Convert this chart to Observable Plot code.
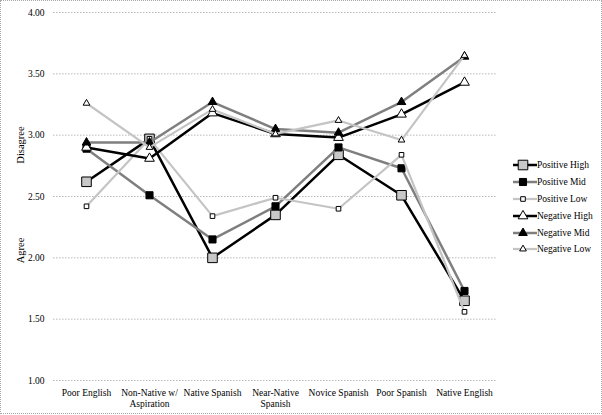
<!DOCTYPE html>
<html>
<head>
<meta charset="utf-8">
<script src="https://cdn.jsdelivr.net/npm/d3@7"></script>
<script src="https://cdn.jsdelivr.net/npm/@observablehq/plot@0.6"></script>
<style>
  html, body { margin: 0; padding: 0; background: #fff; }
  #wrap { position: relative; width: 602px; height: 415px; overflow: hidden; font-family: "Liberation Serif", "Times New Roman", "DejaVu Serif", serif; }
  #wrap svg.plot { position: absolute; left: 0; top: 0; font-family: "Liberation Serif", "Times New Roman", "DejaVu Serif", serif; }
  #wrap svg.plot text { font-family: "Liberation Serif", "Times New Roman", "DejaVu Serif", serif; }
  #border { position: absolute; left: 0; top: 0; width: 600px; height: 412px; border: 1px dotted #a8a8a8; pointer-events: none; }
  #legend { position: absolute; left: 510px; top: 157px; }
  .row { height: 16.8px; display: flex; align-items: center; font-size: 9.5px; color: #000; white-space: nowrap; }
  .row svg { display: block; flex: none; }
</style>
</head>
<body>
<div id="wrap"><div id="border"></div><div id="legend"></div></div>
<script>
// ---- data ----
const categories = ["Poor English", "Non-Native w/ Aspiration", "Native Spanish", "Near-Native Spanish", "Novice Spanish", "Poor Spanish", "Native English"];
const tickLabels = ["Poor English", "Non-Native w/\nAspiration", "Native Spanish", "Near-Native\nSpanish", "Novice Spanish", "Poor Spanish", "Native English"];
const yTicks = [1.00, 1.50, 2.00, 2.50, 3.00, 3.50, 4.00];
const seriesNames = ["Positive High", "Positive Mid", "Positive Low", "Negative High", "Negative Mid", "Negative Low"];
const positiveHigh = [2.62, 2.97, 2.00, 2.35, 2.84, 2.51, 1.65];
const positiveMid  = [2.89, 2.51, 2.15, 2.42, 2.90, 2.73, 1.73];
const positiveLow  = [2.42, 2.97, 2.34, 2.49, 2.40, 2.84, 1.56];
const negativeHigh = [2.90, 2.81, 3.18, 3.01, 2.98, 3.17, 3.43];
const negativeMid  = [2.94, 2.94, 3.27, 3.05, 3.02, 3.27, 3.64];
const negativeLow  = [3.26, 2.90, 3.21, 3.01, 3.12, 2.96, 3.65];
const seriesValues = [positiveHigh, positiveMid, positiveLow, negativeHigh, negativeMid, negativeLow];
const axisTitles = ["Disagree", "Agree"];

// ---- styles ----
const styles = {
  "Positive High": {line: "#000000", width: 2.5, symbol: "square",   r: 5.4, fill: "#c8c8c8", stroke: "#000", sw: 1},
  "Positive Mid":  {line: "#7f7f7f", width: 2.5, symbol: "square",   r: 4.0, fill: "#000000", stroke: "#000", sw: 1},
  "Positive Low":  {line: "#c4c4c4", width: 2.2, symbol: "square",   r: 2.6, fill: "#ffffff", stroke: "#000", sw: 1},
  "Negative High": {line: "#000000", width: 2.5, symbol: "triangle", r: 3.6, fill: "#ffffff", stroke: "#000", sw: 1},
  "Negative Mid":  {line: "#7f7f7f", width: 2.5, symbol: "triangle", r: 3.2, fill: "#000000", stroke: "#000", sw: 1},
  "Negative Low":  {line: "#c4c4c4", width: 2.2, symbol: "triangle", r: 2.5, fill: "#ffffff", stroke: "#000", sw: 1}
};

const rows = seriesNames.flatMap((name, s) =>
  categories.map((category, i) => ({series: name, category, value: seriesValues[s][i]})));

const seriesMarks = seriesNames.flatMap(name => {
  const st = styles[name];
  const data = rows.filter(d => d.series === name);
  return [
    Plot.line(data, {x: "category", y: "value", stroke: st.line, strokeWidth: st.width, strokeLinejoin: "round"}),
    Plot.dot(data, {x: "category", y: "value", symbol: () => st.symbol, r: st.r, fill: st.fill, stroke: st.stroke, strokeWidth: st.sw})
  ];
});

const serif = "Liberation Serif, Times New Roman, DejaVu Serif, serif";
const chart = Plot.plot({
  width: 602,
  height: 415,
  marginLeft: 53,
  marginRight: 105,
  marginTop: 12,
  marginBottom: 35,
  style: {fontFamily: serif, background: "transparent", color: "#000"},
  x: {type: "point", domain: categories, padding: 0.5},
  y: {domain: [1, 4]},
  symbol: {type: "identity"},
  marks: [
    Plot.ruleY(yTicks, {stroke: "#b8b8b8", strokeWidth: 1, strokeDasharray: "1.5,1.5"}),
    Plot.axisY({ticks: yTicks, tickFormat: d => d.toFixed(2), tickSize: 0, tickPadding: 9, fontSize: 9.5, fontFamily: serif, label: null}),
    Plot.axisX({tickSize: 0, tickPadding: 8, fontSize: 9.5, fontFamily: serif, lineHeight: 1.12, label: null,
      tickFormat: d => tickLabels[categories.indexOf(d)]}),
    Plot.text(axisTitles, {y: [2.92, 2.06], text: d => d, frameAnchor: "left", textAnchor: "middle", dx: -33, rotate: -90, fontSize: 10.5, fontFamily: serif}),
    ...seriesMarks
  ]
});
chart.classList.add("plot");
document.getElementById("wrap").prepend(chart);

// ---- legend ----
const legend = d3.select("#legend");
seriesNames.forEach(name => {
  const st = styles[name];
  const row = legend.append("div").attr("class", "row");
  const svg = row.append("svg").attr("width", 27).attr("height", 14);
  svg.append("line").attr("x1", 3).attr("x2", 27).attr("y1", 7).attr("y2", 7)
    .attr("stroke", st.line).attr("stroke-width", st.width);
  const sym = st.symbol === "square" ? d3.symbolSquare : d3.symbolTriangle;
  svg.append("path").attr("d", d3.symbol(sym, Math.PI * st.r * st.r)())
    .attr("transform", "translate(13,7)")
    .attr("fill", st.fill).attr("stroke", st.stroke).attr("stroke-width", st.sw);
  row.append("span").text(name);
});
</script>
</body>
</html>
